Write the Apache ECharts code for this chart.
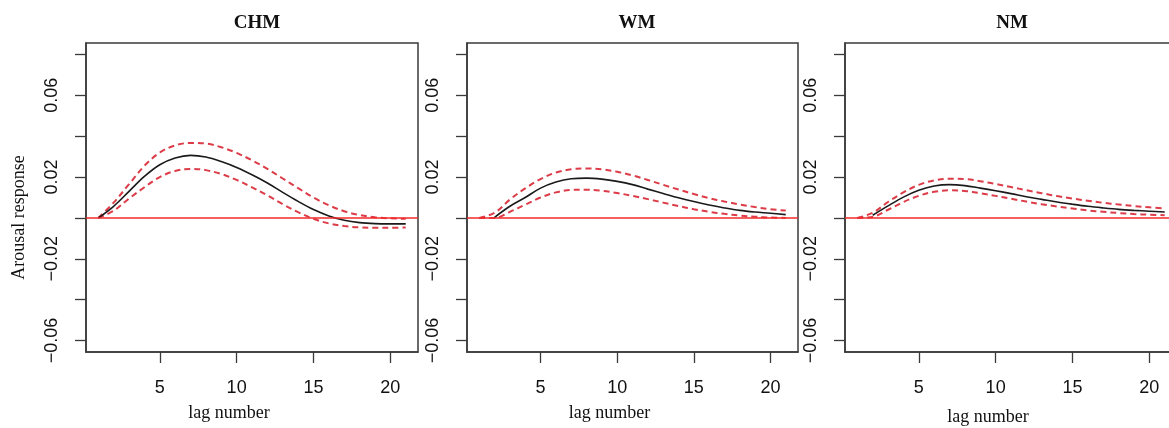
<!DOCTYPE html>
<html>
<head>
<meta charset="utf-8">
<script src="https://cdn.jsdelivr.net/npm/echarts@6/dist/echarts.min.js"></script>
<style>html,body{margin:0;padding:0;background:#fff}#c{width:1169px;height:428px}</style>
</head>
<body>
<div id="c"></div>
<script>
var lags = [1,2,3,4,5,6,7,8,9,10,11,12,13,14,15,16,17,18,19,20,21];
var panelTitles = ['CHM','WM','NM'];
var xTicks = [5,10,15,20];
var yTicks = [-0.06,-0.04,-0.02,0,0.02,0.04,0.06,0.08];
var yLabels = [-0.06,-0.02,0.02,0.06];

var chmFit   = [0,0.0057,0.013,0.0203,0.026,0.0293,0.0306,0.0298,0.0276,0.0247,0.0211,0.0171,0.0125,0.0081,0.0041,0.001,-0.0011,-0.0023,-0.0028,-0.0029,-0.0029];
var chmUpper = [0,0.0075,0.0165,0.0255,0.032,0.0355,0.0367,0.0364,0.0346,0.0318,0.0282,0.024,0.0193,0.0146,0.01,0.0062,0.0033,0.0014,0.0003,-0.0002,-0.0004];
var chmLower = [0,0.0035,0.0095,0.015,0.02,0.023,0.024,0.0234,0.0215,0.0186,0.015,0.011,0.0067,0.0028,-0.0004,-0.0027,-0.004,-0.0046,-0.0048,-0.0048,-0.0047];

var wmFit   = [null,0.0003,0.0057,0.010,0.0146,0.0176,0.0192,0.0195,0.019,0.0179,0.0163,0.0141,0.012,0.0099,0.008,0.0063,0.0049,0.0037,0.0029,0.0023,0.0016];
var wmUpper = [0,0.0025,0.009,0.0145,0.019,0.0222,0.0238,0.0242,0.0238,0.0226,0.0208,0.0186,0.0162,0.0139,0.0117,0.0097,0.008,0.0066,0.0053,0.0043,0.0036];
var wmLower = [0,0,0.003,0.0065,0.01,0.0125,0.0137,0.0138,0.0133,0.0122,0.0108,0.0092,0.0075,0.0058,0.0043,0.003,0.002,0.0012,0.0006,0.0002,0];

var nmFit   = [null,0.0013,0.0059,0.0102,0.0135,0.0156,0.0163,0.0158,0.0146,0.0133,0.0119,0.0104,0.0091,0.0078,0.0067,0.0057,0.0049,0.0042,0.0037,0.0033,0.0029];
var nmUpper = [0,0.0025,0.0078,0.0125,0.0162,0.0184,0.0192,0.019,0.018,0.0166,0.0151,0.0136,0.0121,0.0107,0.0095,0.0084,0.0074,0.0066,0.0058,0.0052,0.0046];
var nmLower = [0,0.0005,0.004,0.0078,0.0108,0.0128,0.0135,0.0132,0.0121,0.0108,0.0094,0.008,0.0067,0.0056,0.0046,0.0037,0.003,0.0024,0.0019,0.0016,0.0013];

var fits = [chmFit, wmFit, nmFit];
var uppers = [chmUpper, wmUpper, nmUpper];
var lowers = [chmLower, wmLower, nmLower];

function pairs(arr){ return lags.map(function(l,i){ return [l, arr[i]]; }); }

var grids = [
  {left: 86, top: 43, width: 332, height: 309},
  {left: 467, top: 43, width: 331, height: 309},
  {left: 845, top: 43, width: 332, height: 309}
];
var titleX = [252, 632, 1007];
var SANS = '"Liberation Sans", Arial, Helvetica, sans-serif';
var SERIF = '"Liberation Serif", "Times New Roman", serif';
var AX = '#3a3a3a';

var option = {
  backgroundColor: '#fff',
  animation: false,
  title: panelTitles.map(function(t, i){
    return {text: t, left: titleX[i], top: 9, textAlign: 'center',
      textStyle: {fontFamily: SERIF, fontWeight: 'bold', fontSize: 19, color: '#111'}};
  }),
  grid: grids.map(function(g){
    return {left: g.left, top: g.top, width: g.width, height: g.height,
      outerBoundsMode: 'none', containLabel: false,
      show: true, borderColor: AX, borderWidth: 1.5, backgroundColor: 'transparent'};
  }),
  xAxis: grids.map(function(g, i){
    return {type: 'value', gridIndex: i, min: 0.2, max: 21.8,
      name: 'lag number', nameLocation: 'middle', nameGap: i === 2 ? 56 : 52,
      nameTextStyle: {fontFamily: SERIF, fontSize: 18, color: '#111', padding: [0, 46, 0, 0]},
      axisLine: {show: true, onZero: false, lineStyle: {color: AX, width: 1.5}},
      axisTick: {show: true, inside: false, length: 11, customValues: xTicks, lineStyle: {color: AX, width: 1.3}},
      axisLabel: {customValues: xTicks, margin: 27, fontFamily: SANS, fontSize: 18, color: '#111'},
      splitLine: {show: false}};
  }),
  yAxis: grids.map(function(g, i){
    return {type: 'value', gridIndex: i, min: -0.0656, max: 0.0856,
      name: i === 0 ? 'Arousal response' : '', nameLocation: 'middle', nameGap: 58, nameRotate: 90,
      nameTextStyle: {fontFamily: SERIF, fontSize: 18, color: '#111', padding: [0, 40, 0, 0]},
      axisLine: {show: true, onZero: false, lineStyle: {color: AX, width: 1.5}},
      axisTick: {show: true, inside: false, length: 11, customValues: yTicks, lineStyle: {color: AX, width: 1.3}},
      axisLabel: {customValues: yLabels, rotate: 90, margin: 25, fontFamily: SANS, fontSize: 18, color: '#111',
        formatter: function(v){ return (v < 0 ? '\u2212' : '') + Math.abs(v).toFixed(2); }},
      splitLine: {show: false}};
  }),
  series: []
};

for (var i = 0; i < 3; i++) {
  option.series.push({
    type: 'line', xAxisIndex: i, yAxisIndex: i, data: pairs(fits[i]), showSymbol: false, smooth: 0.35,
    lineStyle: {color: '#1a1a1a', width: 1.6}, z: 4,
    markLine: {silent: true, symbol: ['none','none'], label: {show: false},
      lineStyle: {color: '#f22a2a', type: 'solid', width: 1.5}, data: [{yAxis: 0}]}
  });
  option.series.push({
    type: 'line', xAxisIndex: i, yAxisIndex: i, data: pairs(uppers[i]), showSymbol: false, smooth: 0.35,
    lineStyle: {color: '#dc3c48', width: 2, type: [6, 4]}, z: 3
  });
  option.series.push({
    type: 'line', xAxisIndex: i, yAxisIndex: i, data: pairs(lowers[i]), showSymbol: false, smooth: 0.35,
    lineStyle: {color: '#dc3c48', width: 2, type: [6, 4]}, z: 3
  });
}

var chart = echarts.init(document.getElementById('c'), null, {renderer: 'canvas'});
chart.setOption(option);
</script>
</body>
</html>
